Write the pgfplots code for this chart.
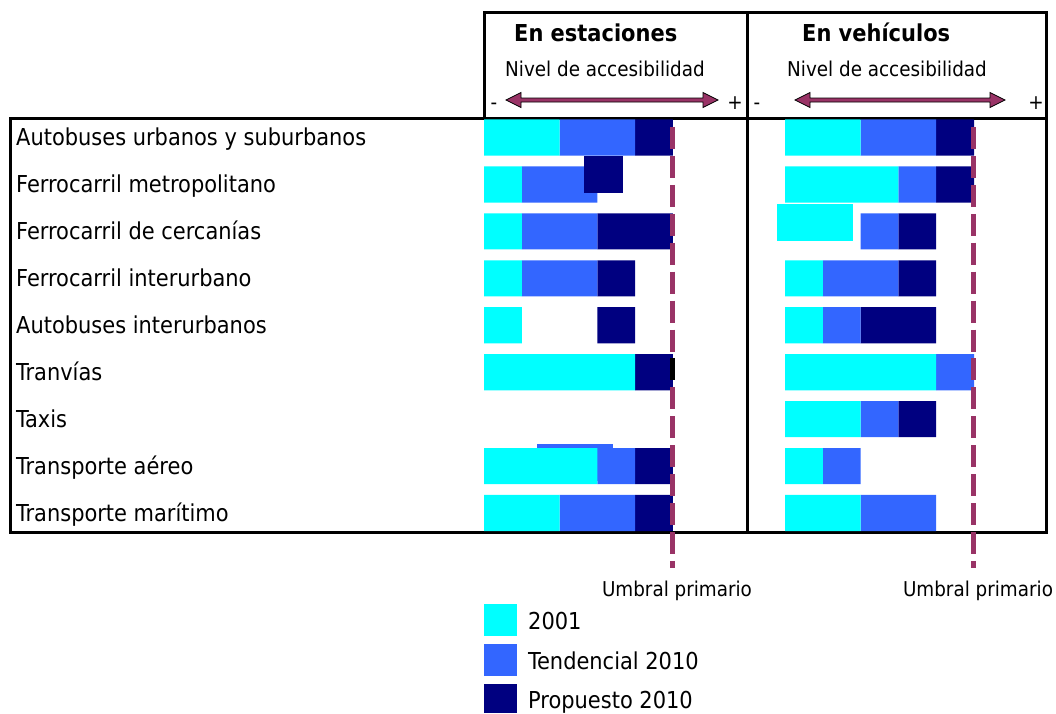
\documentclass[border=0pt]{standalone}
\usepackage{pgfplots}
\pgfplotsset{compat=1.18}
\usepackage{pgfplotstable}
\usepackage{fontspec}
\setmainfont{DejaVu Sans Condensed}

\definecolor{c01}{HTML}{00FFFF}
\definecolor{t10}{HTML}{3366FF}
\definecolor{p10}{HTML}{000080}
\definecolor{plum}{HTML}{993366}

% segment lengths in accessibility units (stacked left to right)
\pgfplotstableread{
row lead c b gap n
1 0 2 2 0 1
2 0 1 2 0 0
3 0 1 2 0 2
4 0 1 2 0 1
5 0 1 0 2 1
6 0 4 0 0 1
7 0 0 0 0 0
8 0 3 1 0 1
9 0 2 2 0 1
}\estaciones

\pgfplotstableread{
row lead c b gap n
1 0 2 2 0 1
2 0 3 1 0 1
3 2 0 1 0 1
4 0 1 2 0 1
5 0 1 1 0 2
6 0 4 1 0 0
7 0 2 1 0 1
8 0 1 1 0 0
9 0 2 2 0 0
}\vehiculos

\pgfplotsset{panel/.style={scale only axis, hide axis, height=414pt,
  y dir=reverse, ymin=0.585, ymax=9.404, anchor=north west}}

\newcommand{\fbig}{\fontsize{23.3pt}{28pt}\selectfont}
\newcommand{\fmid}{\fontsize{20.4pt}{24pt}\selectfont}

\begin{document}
\begin{tikzpicture}[x=1pt,y=-1pt]
\path[use as bounding box] (0,0) rectangle (1056,713);

% frame
\draw[line width=3pt, line cap=rect] (484,118) -- (484,12) -- (1046,12) -- (1046,532) -- (10,532) -- (10,118) -- (1046,118);
\draw[line width=3pt] (747,12) -- (747,532);

% ===== left panel: En estaciones =====
\begin{axis}[panel, at={(484pt,-118pt)}, width=263pt, xmin=0, xmax=6.958, clip=false]
\addplot[draw=none, fill=t10] coordinates {(1.41,7.53) (3.42,7.53) (3.42,8.318) (1.41,8.318)};
\end{axis}
\begin{axis}[panel, at={(484pt,-118pt)}, width=263pt, xmin=0, xmax=6.958, xbar stacked, bar width=0.77]
\addplot[draw=none, fill=none] table[x=lead, y=row]{\estaciones};
\addplot[draw=none, fill=c01] table[x=c, y=row]{\estaciones};
\addplot[draw=none, fill=t10] table[x=b, y=row]{\estaciones};
\addplot[draw=none, fill=none] table[x=gap, y=row]{\estaciones};
\addplot[draw=none, fill=p10] table[x=n, y=row]{\estaciones};
\end{axis}
\begin{axis}[panel, at={(484pt,-118pt)}, width=263pt, xmin=0, xmax=6.958, clip=false]
\addplot[draw=none, fill=p10] coordinates {(2.65,1.394) (3.69,1.394) (3.69,2.182) (2.65,2.182)};
\addplot[plum, line width=5pt, dash pattern=on 22pt off 6.93pt] coordinates {(4.99,0.7763) (4.99,10.171)};
\addplot[black, line width=5pt] coordinates {(4.99,5.697) (4.99,6.165)};
\end{axis}

% ===== right panel: En vehiculos =====
\begin{axis}[panel, at={(747pt,-118pt)}, width=299pt, xmin=-1.005, xmax=6.905, xbar stacked, bar width=0.77]
\addplot[draw=none, fill=none] table[x=lead, y=row]{\vehiculos};
\addplot[draw=none, fill=c01] table[x=c, y=row]{\vehiculos};
\addplot[draw=none, fill=t10] table[x=b, y=row]{\vehiculos};
\addplot[draw=none, fill=none] table[x=gap, y=row]{\vehiculos};
\addplot[draw=none, fill=p10] table[x=n, y=row]{\vehiculos};
\end{axis}
\begin{axis}[panel, at={(747pt,-118pt)}, width=299pt, xmin=-1.005, xmax=6.905, clip=false]
\addplot[draw=none, fill=c01] coordinates {(-0.212,2.417) (1.799,2.417) (1.799,3.205) (-0.212,3.205)};
\addplot[plum, line width=5pt, dash pattern=on 22pt off 6.93pt] coordinates {(4.99,0.7763) (4.99,10.171)};
\end{axis}

% row labels
\begin{scope}[every node/.style={anchor=base west, inner sep=0pt, font=\fbig}]
\node at (16,145) {Autobuses urbanos y suburbanos};
\node at (16,192) {Ferrocarril metropolitano};
\node at (16,239) {Ferrocarril de cercanías};
\node at (16,286) {Ferrocarril interurbano};
\node at (16,333) {Autobuses interurbanos};
\node at (16,380) {Tranvías};
\node at (16,427) {Taxis};
\node at (16,474) {Transporte aéreo};
\node at (16,521) {Transporte marítimo};
\end{scope}

% headers
\node[anchor=base west, inner sep=0pt, font=\fbig\bfseries] at (514,41) {En estaciones};
\node[anchor=base west, inner sep=0pt, font=\fbig\bfseries] at (802,41) {En vehículos};
\node[anchor=base west, inner sep=0pt, font=\fmid] at (505,76) {Nivel de accesibilidad};
\node[anchor=base west, inner sep=0pt, font=\fmid] at (787,76) {Nivel de accesibilidad};
\begin{scope}[every node/.style={anchor=base, inner sep=0pt, font=\fmid}]
\node at (494,109) {-};
\node at (735,109) {+};
\node at (757,109) {-};
\node at (1036,109) {+};
\end{scope}

% arrows
\foreach \xa/\xb in {506/718, 795/1005}{
  \filldraw[fill=plum, draw=black, line width=0.8pt]
   (\xa,100) -- (\xa+15,92.5) -- (\xa+15,98) -- (\xb-15,98) -- (\xb-15,92.5) -- (\xb,100)
   -- (\xb-15,107.5) -- (\xb-15,102) -- (\xa+15,102) -- (\xa+15,107.5) -- cycle;
}

% threshold labels
\node[anchor=base, inner sep=0pt, font=\fmid] at (677,596) {Umbral primario};
\node[anchor=base, inner sep=0pt, font=\fmid] at (978,596) {Umbral primario};

% legend
\fill[c01] (484,604) rectangle (517,636);
\fill[t10] (484,644) rectangle (517,676);
\fill[p10] (484,684) rectangle (517,713);
\begin{scope}[every node/.style={anchor=base west, inner sep=0pt, font=\fbig}]
\node at (528,629.5) {2001};
\node at (528,669.5) {Tendencial 2010};
\node at (528,708.5) {Propuesto 2010};
\end{scope}
\end{tikzpicture}
\end{document}
